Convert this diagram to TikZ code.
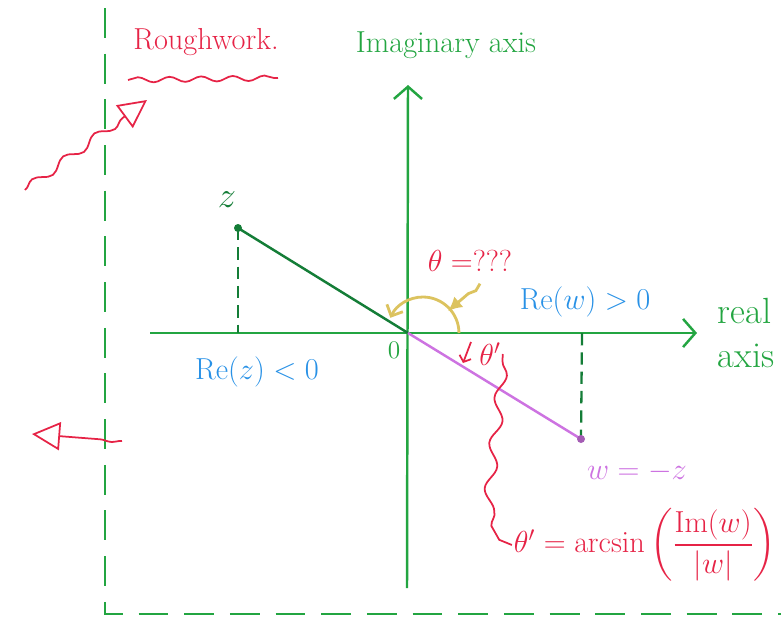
\documentclass[tikz,border=0pt]{standalone}
\usepackage{amsmath}
\usetikzlibrary{arrows.meta,positioning,decorations.pathmorphing}
\definecolor{penGreen}{RGB}{35,165,65}
\definecolor{darkGreen}{RGB}{20,125,55}
\definecolor{penRed}{RGB}{230,35,70}
\definecolor{penBlue}{RGB}{40,145,230}
\definecolor{penPink}{RGB}{205,115,225}
\definecolor{penYellow}{RGB}{220,195,95}

\begin{document}
\begin{tikzpicture}[x=0.02cm, y=-0.02cm,
  frame/.style={draw=penGreen, line width=1.2pt, dash pattern=on 17pt off 9pt},
  axisline/.style={draw=penGreen, line width=1.4pt,
                   -{Straight Barb[length=7pt, width=16pt, line width=1.4pt]}},
  guide/.style={draw=darkGreen, line width=1.3pt, dash pattern=on 7pt off 4pt},
  redpen/.style={draw=penRed, line width=1pt},
  wavy/.style={decorate, decoration={snake, amplitude=2.5pt, segment length=22pt, post length=14pt}},
  note/.style={font=\LARGE, inner sep=1pt},
]
  \useasboundingbox (0,0) rectangle (781,619);
  % roughwork frame and its arrows
  \draw[frame] (105,8) -- (105,614) -- (781,614);
  \node[note, text=penRed] (rough) at (206,42) {Roughwork.};
  \draw[redpen, decorate, decoration={snake, amplitude=1.5pt, segment length=18pt}]
        (128,80) -- (278,78);
  \coordinate (inS) at (25,190);
  \coordinate (inE) at (147,100);
  \draw[redpen, wavy, -{Triangle[open, length=16pt, width=16pt, line width=1pt]}] (inS) -- (inE);
  \coordinate (outS) at (122,441);
  \coordinate (outE) at (32,434);
  \draw[redpen, decorate, decoration={snake, amplitude=1pt, segment length=20pt, post length=30pt},
        -{Triangle[open, length=16pt, width=16pt, line width=1pt]}] (outS) -- (outE);

  % the two axes
  \coordinate (O) at (408,333);
  \coordinate (xl) at (150,333);
  \coordinate (xr) at (697,333);
  \coordinate (yb) at (407,588);
  \coordinate (yt) at (408,85);
  \draw[axisline] (xl) -- (xr);
  \draw[axisline] (yb) -- (yt);
  \node[note, text=penGreen] (imlab) at (446,45) {Imaginary axis};
  \node[font=\huge, text=penGreen, align=left, inner sep=1pt] (relab) at (746,333) {real\\axis};
  \node[font=\Large, text=penGreen] (zero) at (394,350) {0};

  % z and w = -z
  \coordinate (z) at (238,228);
  \coordinate (w) at (581,439);
  \coordinate (zx) at (238,333);
  \coordinate (wx) at (582,333);
  \draw[guide] (z) -- (zx);
  \draw[guide] (wx) -- (w);
  \draw[darkGreen, line width=1.4pt] (z) -- (O);
  \draw[penPink, line width=1.4pt] (O) -- (w);
  \fill[darkGreen] (z) circle[radius=4];
  \fill[penPink!80!black] (w) circle[radius=4];
  \node[font=\huge, text=darkGreen] (zlab) at (227,200) {$z$};
  \node[note, text=penPink] (wlab) at (637,472) {$w=-z$};
  \node[note, text=penBlue] (rez) at (257,372) {$\mathrm{Re}(z)<0$};
  \node[note, text=penBlue] (rew) at (585,302) {$\mathrm{Re}(w)>0$};

  % the angles
  \node[note, text=penRed] (theta) at (470,261) {$\theta=???$};
  \draw[penYellow, line width=1.6pt, -{Straight Barb[length=5pt, width=10pt, line width=1.6pt]}]
        ([xshift=29] O) arc[start angle=0, end angle=-155, radius=36];
  \draw[penYellow, line width=1.6pt, decorate,
        decoration={snake, amplitude=1.5pt, segment length=14pt, post length=10pt},
        -{Latex[length=8pt, width=8pt]}] (theta.south) ++(10,10) -- (448,311);
  \node[note, text=penRed] (thp) at (490,354) {$\theta'$};
  \draw[redpen, -{Straight Barb[length=3pt, width=7pt]}] (471,342) -- (463,363);
  \node[note, text=penRed] (arcsin) at (645,545)
        {$\theta'=\arcsin\left(\dfrac{\mathrm{Im}(w)}{|w|}\right)$};
  \draw[redpen, decorate, decoration={snake, amplitude=3pt, segment length=26pt, pre length=4pt, post length=8pt}]
        (thp.east) .. controls (500,430) and (470,545) .. (arcsin.west);
\end{tikzpicture}
\end{document}
